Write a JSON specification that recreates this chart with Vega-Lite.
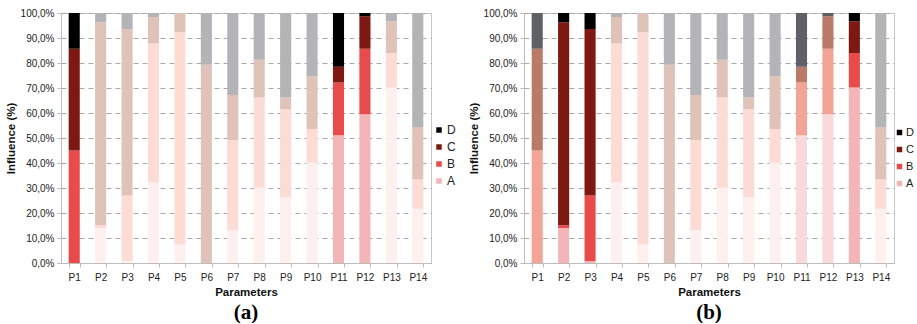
{
  "$schema": "https://vega.github.io/schema/vega-lite/v6.json",
  "padding": {"left": 4, "top": 7, "right": 0, "bottom": 0},
  "background": "white",
  "config": {
    "font": "Liberation Sans",
    "view": {"stroke": "#c8c8c8", "strokeWidth": 1},
    "axis": {
      "labelFont": "Liberation Sans", "labelFontSize": 10, "labelColor": "#222222",
      "titleFont": "Liberation Sans", "titleFontSize": 11.5, "titleFontWeight": "bold", "titleColor": "#111111",
      "domainColor": "#bdbdbd", "tickColor": "#bdbdbd", "tickSize": 4
    },
    "legend": {"labelFont": "Liberation Sans", "labelFontSize": 12, "labelColor": "#222222"}
  },
  "datasets": {
    "a": [
      {"param": "P1", "seg": "B", "value": 45.0, "tone": "B1"},
      {"param": "P1", "seg": "C", "value": 40.7, "tone": "C1"},
      {"param": "P1", "seg": "D", "value": 14.3, "tone": "D1"},
      {"param": "P2", "seg": "A", "value": 14.0, "tone": "A3"},
      {"param": "P2", "seg": "B", "value": 1.1, "tone": "B3"},
      {"param": "P2", "seg": "C", "value": 81.2, "tone": "C3"},
      {"param": "P2", "seg": "D", "value": 3.7, "tone": "D3"},
      {"param": "P3", "seg": "A", "value": 0.8, "tone": "A3"},
      {"param": "P3", "seg": "B", "value": 26.2, "tone": "B3"},
      {"param": "P3", "seg": "C", "value": 66.6, "tone": "C3"},
      {"param": "P3", "seg": "D", "value": 6.4, "tone": "D3"},
      {"param": "P4", "seg": "A", "value": 32.2, "tone": "A3"},
      {"param": "P4", "seg": "B", "value": 55.6, "tone": "B3"},
      {"param": "P4", "seg": "C", "value": 10.6, "tone": "C3"},
      {"param": "P4", "seg": "D", "value": 1.6, "tone": "D3"},
      {"param": "P5", "seg": "A", "value": 7.4, "tone": "A3"},
      {"param": "P5", "seg": "B", "value": 85.0, "tone": "B3"},
      {"param": "P5", "seg": "C", "value": 7.6, "tone": "C3"},
      {"param": "P6", "seg": "C", "value": 79.3, "tone": "C3"},
      {"param": "P6", "seg": "D", "value": 20.7, "tone": "D3"},
      {"param": "P7", "seg": "A", "value": 13.1, "tone": "A3"},
      {"param": "P7", "seg": "B", "value": 36.1, "tone": "B3"},
      {"param": "P7", "seg": "C", "value": 18.0, "tone": "C3"},
      {"param": "P7", "seg": "D", "value": 32.8, "tone": "D3"},
      {"param": "P8", "seg": "A", "value": 30.1, "tone": "A3"},
      {"param": "P8", "seg": "B", "value": 36.1, "tone": "B3"},
      {"param": "P8", "seg": "C", "value": 15.1, "tone": "C3"},
      {"param": "P8", "seg": "D", "value": 18.7, "tone": "D3"},
      {"param": "P9", "seg": "A", "value": 26.2, "tone": "A3"},
      {"param": "P9", "seg": "B", "value": 35.3, "tone": "B3"},
      {"param": "P9", "seg": "C", "value": 4.7, "tone": "C3"},
      {"param": "P9", "seg": "D", "value": 33.8, "tone": "D3"},
      {"param": "P10", "seg": "A", "value": 40.1, "tone": "A3"},
      {"param": "P10", "seg": "B", "value": 13.5, "tone": "B3"},
      {"param": "P10", "seg": "C", "value": 21.1, "tone": "C3"},
      {"param": "P10", "seg": "D", "value": 25.3, "tone": "D3"},
      {"param": "P11", "seg": "A", "value": 51.1, "tone": "A1"},
      {"param": "P11", "seg": "B", "value": 21.1, "tone": "B1"},
      {"param": "P11", "seg": "C", "value": 6.3, "tone": "C1"},
      {"param": "P11", "seg": "D", "value": 21.5, "tone": "D1"},
      {"param": "P12", "seg": "A", "value": 59.5, "tone": "A1"},
      {"param": "P12", "seg": "B", "value": 26.2, "tone": "B1"},
      {"param": "P12", "seg": "C", "value": 13.0, "tone": "C1"},
      {"param": "P12", "seg": "D", "value": 1.3, "tone": "D1"},
      {"param": "P13", "seg": "A", "value": 70.2, "tone": "A3"},
      {"param": "P13", "seg": "B", "value": 13.8, "tone": "B3"},
      {"param": "P13", "seg": "C", "value": 12.7, "tone": "C3"},
      {"param": "P13", "seg": "D", "value": 3.3, "tone": "D3"},
      {"param": "P14", "seg": "A", "value": 21.7, "tone": "A3"},
      {"param": "P14", "seg": "B", "value": 11.7, "tone": "B3"},
      {"param": "P14", "seg": "C", "value": 21.0, "tone": "C3"},
      {"param": "P14", "seg": "D", "value": 45.6, "tone": "D3"}
    ],
    "b": [
      {"param": "P1", "seg": "B", "value": 45.0, "tone": "B2"},
      {"param": "P1", "seg": "C", "value": 40.7, "tone": "C2"},
      {"param": "P1", "seg": "D", "value": 14.3, "tone": "D2"},
      {"param": "P2", "seg": "A", "value": 14.0, "tone": "A1"},
      {"param": "P2", "seg": "B", "value": 1.1, "tone": "B1"},
      {"param": "P2", "seg": "C", "value": 81.2, "tone": "C1"},
      {"param": "P2", "seg": "D", "value": 3.7, "tone": "D1"},
      {"param": "P3", "seg": "A", "value": 0.8, "tone": "A1"},
      {"param": "P3", "seg": "B", "value": 26.2, "tone": "B1"},
      {"param": "P3", "seg": "C", "value": 66.6, "tone": "C1"},
      {"param": "P3", "seg": "D", "value": 6.4, "tone": "D1"},
      {"param": "P4", "seg": "A", "value": 32.2, "tone": "A3"},
      {"param": "P4", "seg": "B", "value": 55.6, "tone": "B3"},
      {"param": "P4", "seg": "C", "value": 10.6, "tone": "C3"},
      {"param": "P4", "seg": "D", "value": 1.6, "tone": "D3"},
      {"param": "P5", "seg": "A", "value": 7.4, "tone": "A3"},
      {"param": "P5", "seg": "B", "value": 85.0, "tone": "B3"},
      {"param": "P5", "seg": "C", "value": 7.6, "tone": "C3"},
      {"param": "P6", "seg": "C", "value": 79.3, "tone": "C3"},
      {"param": "P6", "seg": "D", "value": 20.7, "tone": "D3"},
      {"param": "P7", "seg": "A", "value": 13.1, "tone": "A3"},
      {"param": "P7", "seg": "B", "value": 36.1, "tone": "B3"},
      {"param": "P7", "seg": "C", "value": 18.0, "tone": "C3"},
      {"param": "P7", "seg": "D", "value": 32.8, "tone": "D3"},
      {"param": "P8", "seg": "A", "value": 30.1, "tone": "A3"},
      {"param": "P8", "seg": "B", "value": 36.1, "tone": "B3"},
      {"param": "P8", "seg": "C", "value": 15.1, "tone": "C3"},
      {"param": "P8", "seg": "D", "value": 18.7, "tone": "D3"},
      {"param": "P9", "seg": "A", "value": 26.2, "tone": "A3"},
      {"param": "P9", "seg": "B", "value": 35.3, "tone": "B3"},
      {"param": "P9", "seg": "C", "value": 4.7, "tone": "C3"},
      {"param": "P9", "seg": "D", "value": 33.8, "tone": "D3"},
      {"param": "P10", "seg": "A", "value": 40.1, "tone": "A3"},
      {"param": "P10", "seg": "B", "value": 13.5, "tone": "B3"},
      {"param": "P10", "seg": "C", "value": 21.1, "tone": "C3"},
      {"param": "P10", "seg": "D", "value": 25.3, "tone": "D3"},
      {"param": "P11", "seg": "A", "value": 51.1, "tone": "A2"},
      {"param": "P11", "seg": "B", "value": 21.1, "tone": "B2"},
      {"param": "P11", "seg": "C", "value": 6.3, "tone": "C2"},
      {"param": "P11", "seg": "D", "value": 21.5, "tone": "D2"},
      {"param": "P12", "seg": "A", "value": 59.5, "tone": "A2"},
      {"param": "P12", "seg": "B", "value": 26.2, "tone": "B2"},
      {"param": "P12", "seg": "C", "value": 13.0, "tone": "C2"},
      {"param": "P12", "seg": "D", "value": 1.3, "tone": "D2"},
      {"param": "P13", "seg": "A", "value": 70.2, "tone": "A1"},
      {"param": "P13", "seg": "B", "value": 13.8, "tone": "B1"},
      {"param": "P13", "seg": "C", "value": 12.7, "tone": "C1"},
      {"param": "P13", "seg": "D", "value": 3.3, "tone": "D1"},
      {"param": "P14", "seg": "A", "value": 21.7, "tone": "A3"},
      {"param": "P14", "seg": "B", "value": 11.7, "tone": "B3"},
      {"param": "P14", "seg": "C", "value": 21.0, "tone": "C3"},
      {"param": "P14", "seg": "D", "value": 45.6, "tone": "D3"}
    ]
  },
  "spacing": 10,
  "resolve": {"scale": {"color": "independent"}, "legend": {"color": "independent"}},
  "hconcat": [
    {
      "width": 370, "height": 250,
      "data": {"name": "a"},
      "title": {"text": "(a)", "orient": "bottom", "anchor": "middle", "font": "Liberation Serif", "fontSize": 21, "fontWeight": "bold", "color": "#000000", "offset": 4},
      "mark": {"type": "bar"},
      "encoding": {
        "x": {"field": "param", "type": "nominal",
              "sort": ["P1","P2","P3","P4","P5","P6","P7","P8","P9","P10","P11","P12","P13","P14"],
              "scale": {"paddingInner": 0.58, "paddingOuter": 0.29},
              "axis": {"title": "Parameters", "labelAngle": 0, "tickBand": "extent", "labelPadding": 5, "titlePadding": 4, "grid": false}},
        "y": {"field": "value", "type": "quantitative", "stack": "zero",
              "scale": {"domain": [0, 100], "nice": false},
              "axis": {"title": "Influence (%)", "values": [0,10,20,30,40,50,60,70,80,90,100],
                       "labelExpr": "replace(format(datum.value, '.1f'), '.', ',') + '%'",
                       "grid": true, "gridDash": [5, 4], "gridColor": "#a8a8a8", "titlePadding": 4, "labelPadding": 3}},
        "color": {"field": "tone", "type": "nominal",
                  "scale": {"domain": ["A1","B1","C1","D1","A2","B2","C2","D2","A3","B3","C3","D3"],
                            "range": ["#f4b5b9","#e84b4b","#7e1812","#000000","#f9d9d9","#f2a596","#b97a68","#5f5f66","#fdf0ee","#fcdcd4","#dfc3b9","#b4b4b8"]},
                  "legend": {"orient": "none", "legendX": 372, "legendY": 111, "title": null,
                             "values": ["D1","C1","B1","A1"], "labelExpr": "substring(datum.label, 0, 1)",
                             "symbolType": "square", "symbolSize": 30, "symbolStrokeWidth": 0, "rowPadding": 5, "labelOffset": 2}},
        "order": {"field": "seg", "sort": "ascending"}
      }
    },
    {
      "width": 370, "height": 250,
      "data": {"name": "b"},
      "title": {"text": "(b)", "orient": "bottom", "anchor": "middle", "font": "Liberation Serif", "fontSize": 21, "fontWeight": "bold", "color": "#000000", "offset": 4},
      "mark": {"type": "bar"},
      "encoding": {
        "x": {"field": "param", "type": "nominal",
              "sort": ["P1","P2","P3","P4","P5","P6","P7","P8","P9","P10","P11","P12","P13","P14"],
              "scale": {"paddingInner": 0.58, "paddingOuter": 0.29},
              "axis": {"title": "Parameters", "labelAngle": 0, "tickBand": "extent", "labelPadding": 5, "titlePadding": 4, "grid": false}},
        "y": {"field": "value", "type": "quantitative", "stack": "zero",
              "scale": {"domain": [0, 100], "nice": false},
              "axis": {"title": "Influence (%)", "values": [0,10,20,30,40,50,60,70,80,90,100],
                       "labelExpr": "replace(format(datum.value, '.1f'), '.', ',') + '%'",
                       "grid": true, "gridDash": [5, 4], "gridColor": "#a8a8a8", "titlePadding": 4, "labelPadding": 3}},
        "color": {"field": "tone", "type": "nominal",
                  "scale": {"domain": ["A1","B1","C1","D1","A2","B2","C2","D2","A3","B3","C3","D3"],
                            "range": ["#f4b5b9","#e84b4b","#7e1812","#000000","#f9d9d9","#f2a596","#b97a68","#5f5f66","#fdf0ee","#fcdcd4","#dfc3b9","#b4b4b8"]},
                  "legend": {"orient": "none", "legendX": 370, "legendY": 114, "title": null,
                             "values": ["D1","C1","B1","A1"], "labelExpr": "substring(datum.label, 0, 1)",
                             "symbolType": "square", "symbolSize": 30, "symbolStrokeWidth": 0, "rowPadding": 5, "labelOffset": 1, "labelFontSize": 11}},
        "order": {"field": "seg", "sort": "ascending"}
      }
    }
  ]
}
